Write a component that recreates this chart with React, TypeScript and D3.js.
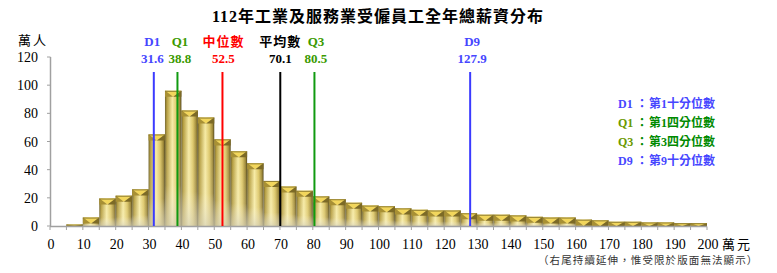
import React from 'react';
import * as d3 from 'd3';

// 每 5 萬元一組 (0-5, 5-10, ... 195-200)，單位：萬人
const binStarts = d3.range(0, 200, 5);
const binCounts = [
  0, 1, 6, 19.5, 21.5, 26, 65, 96, 82, 77,
  61.5, 53, 44.5, 32, 28, 25, 21, 19, 16.5, 14.5,
  14, 12.5, 11.5, 11, 11, 9, 8, 8, 7.5, 6.5,
  6, 6, 4.5, 4, 3, 3, 2.5, 2.5, 2, 2,
];

const yTicks = [0, 20, 40, 60, 80, 100, 120];
const xTicks = d3.range(0, 201, 10);

const markerNames = ['D1', 'Q1', '中位數', '平均數', 'Q3', 'D9'];
const markerValues = [31.6, 38.8, 52.5, 70.1, 80.5, 127.9];
const markerColors = ['#3b3bff', '#109a10', '#ff0000', '#000000', '#109a10', '#3b3bff'];
const markerTextColors = ['#4646ff', '#3a9a00', '#ff0000', '#000000', '#3a9a00', '#4646ff'];
// label nudges so the D1/Q1 numbers don't collide
const markerLabelShift = [-1.5, 2.5, 1, 0, 1.5, 2];

const legendKeys = ['D1', 'Q1', 'Q3', 'D9'];
const legendTexts = ['第1十分位數', '第1四分位數', '第3四分位數', '第9十分位數'];
const legendColors = ['#4646ff', '#008a00', '#008a00', '#4646ff'];
const legendKeyColors = ['#4646ff', '#6a9a00', '#6a9a00', '#4646ff'];

const W = 777;
const H = 273;
const serif = '"Liberation Serif", "Times New Roman", "Noto Sans CJK TC", serif';

export default function App() {
  const x = d3.scaleLinear().domain([0, 200]).range([50, 707]);
  const y = d3.scaleLinear().domain([0, 120]).range([226, 57]);
  const bw = x(5) - x(0);

  return (
    <div>
      <style>{`body{margin:0;background:#fff}`}</style>
      <svg width={W} height={H} style={{ display: 'block', fontFamily: serif }}>
        <defs>
          <linearGradient id="gold" x1="0" x2="1" y1="0" y2="0">
            <stop offset="0%" stopColor="#6e6128" />
            <stop offset="12%" stopColor="#b49c3c" />
            <stop offset="45%" stopColor="#f6eaa2" />
            <stop offset="70%" stopColor="#dcc666" />
            <stop offset="90%" stopColor="#9c8634" />
            <stop offset="100%" stopColor="#4f4418" />
          </linearGradient>
          <linearGradient id="fade" x1="0" x2="0" y1="0" y2="1">
            <stop offset="0%" stopColor="#fff" stopOpacity={0} />
            <stop offset="70%" stopColor="#fff" stopOpacity={0.15} />
            <stop offset="100%" stopColor="#d8d4c0" stopOpacity={0.7} />
          </linearGradient>
        </defs>

        {/* title */}
        <text x={378} y={22} textAnchor="middle" fontSize={16} fontWeight="bold" letterSpacing={1}>
          112年工業及服務業受僱員工全年總薪資分布
        </text>
        <text x={18} y={45} fontSize={13} letterSpacing={2}>萬人</text>

        {/* y axis */}
        <line x1={50.5} x2={50.5} y1={y(120)} y2={y(0)} stroke="#a0a0a0" strokeWidth={1.5} />
        {yTicks.map(t => (
          <g key={t}>
            <line x1={47} x2={50.5} y1={y(t)} y2={y(t)} stroke="#a0a0a0" />
            <text x={38} y={y(t) + 5} textAnchor="end" fontSize={14}>{t}</text>
          </g>
        ))}

        {/* bars */}
        {binStarts.map((b, i) => {
          const v = binCounts[i];
          if (v <= 0) return null;
          const x0 = x(b);
          const top = y(v);
          const h = y(0) - top;
          const cap = Math.min(6, h);
          const cx = x0 + bw / 2;
          return (
            <g key={b}>
              <rect x={x0} y={top} width={bw} height={h} fill="url(#gold)" />
              <rect x={x0} y={top} width={bw} height={h} fill="url(#fade)" />
              <polygon points={`${x0},${top} ${x0 + bw},${top} ${cx},${top + cap}`} fill="#f2d65c" />
              <polygon points={`${x0},${top} ${cx},${top + cap} ${x0},${top + cap}`} fill="#a89034" />
              <polygon points={`${x0 + bw},${top} ${cx},${top + cap} ${x0 + bw},${top + cap}`} fill="#7c6a26" />
              <line x1={x0} x2={x0 + bw} y1={top + 0.5} y2={top + 0.5} stroke="#8e7c30" strokeWidth={1} />
            </g>
          );
        })}

        {/* x axis */}
        <line x1={50} x2={707} y1={226.5} y2={226.5} stroke="#a0a0a0" strokeWidth={1.5} />
        {d3.range(0, 201, 5).map(t => (
          <line key={t} x1={x(t)} x2={x(t)} y1={226.5} y2={230} stroke="#a0a0a0" />
        ))}
        {xTicks.map(t => (
          <text key={t} x={x(t) + 1} y={249} textAnchor="middle" fontSize={14}>{t}</text>
        ))}
        <text x={722} y={249} fontSize={13} letterSpacing={2}>萬元</text>
        <text x={538} y={264} fontSize={10.5} letterSpacing={1.1} fill="#333">
          （右尾持續延伸，惟受限於版面無法顯示）
        </text>

        {/* marker lines */}
        {markerValues.map((v, i) => (
          <g key={markerNames[i]}>
            <line x1={x(v)} x2={x(v)} y1={72} y2={226} stroke={markerColors[i]} strokeWidth={2} />
            <text x={x(v) + markerLabelShift[i]} y={46} textAnchor="middle" fontSize={13} fontWeight="bold"
              fill={markerTextColors[i]} letterSpacing={markerNames[i].length > 2 ? 1 : 0}>
              {markerNames[i]}
            </text>
            <text x={x(v) + markerLabelShift[i]} y={63} textAnchor="middle" fontSize={13} fontWeight="bold"
              fill={markerTextColors[i]}>
              {v.toFixed(1)}
            </text>
          </g>
        ))}

        {/* legend */}
        {legendKeys.map((k, i) => (
          <g key={k} transform={`translate(618, ${108 + i * 19})`} fontSize={12} fontWeight="bold">
            <text x={0} y={0} fill={legendKeyColors[i]}>{k}</text>
            <text x={18} y={0} fill={legendColors[i]}>：</text>
            <text x={31} y={0} fill={legendColors[i]}>{legendTexts[i]}</text>
          </g>
        ))}
      </svg>
    </div>
  );
}
